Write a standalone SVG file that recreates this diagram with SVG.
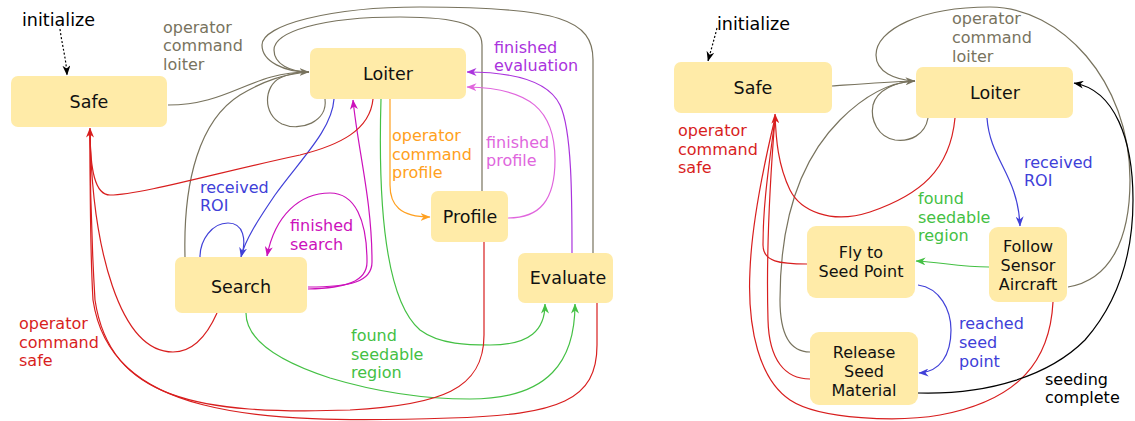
<svg xmlns="http://www.w3.org/2000/svg" width="1135" height="421" viewBox="0 0 1135 421">
<style>
text{font-family:"DejaVu Sans",Verdana,sans-serif;font-size:17.5px}
.ml{font-size:16px}
.n rect{fill:#ffeba8}
.n text{fill:#111;text-anchor:middle}
.e path{fill:none;stroke-width:1.2}
.k{stroke:#000}.g{stroke:#78735e}.r{stroke:#d81e1e}.b{stroke:#4040d8}.m{stroke:#cc11bb}.o{stroke:#ffa020}.p{stroke:#e066dd}.v{stroke:#aa33dd}.gr{stroke:#44c044}
.dot{stroke-dasharray:2 2}
.tk{fill:#000}.tg{fill:#78735e}.tr{fill:#d81e1e}.tb{fill:#4040d8}.tm{fill:#cc11bb}.to{fill:#ffa020}.tp{fill:#e066dd}.tv{fill:#aa33dd}.tgr{fill:#44c044}
</style>
<defs>
<marker id="mk" viewBox="0 0 10 8" refX="9.5" refY="4" markerWidth="10" markerHeight="8" orient="auto" markerUnits="userSpaceOnUse"><path d="M0,0 L10,4 L0,8 L3,4 z" fill="#000"/></marker>
<marker id="mg" viewBox="0 0 10 8" refX="9.5" refY="4" markerWidth="10" markerHeight="8" orient="auto" markerUnits="userSpaceOnUse"><path d="M0,0 L10,4 L0,8 L3,4 z" fill="#78735e"/></marker>
<marker id="mr" viewBox="0 0 10 8" refX="9.5" refY="4" markerWidth="10" markerHeight="8" orient="auto" markerUnits="userSpaceOnUse"><path d="M0,0 L10,4 L0,8 L3,4 z" fill="#d81e1e"/></marker>
<marker id="mb" viewBox="0 0 10 8" refX="9.5" refY="4" markerWidth="10" markerHeight="8" orient="auto" markerUnits="userSpaceOnUse"><path d="M0,0 L10,4 L0,8 L3,4 z" fill="#4040d8"/></marker>
<marker id="mm" viewBox="0 0 10 8" refX="9.5" refY="4" markerWidth="10" markerHeight="8" orient="auto" markerUnits="userSpaceOnUse"><path d="M0,0 L10,4 L0,8 L3,4 z" fill="#cc11bb"/></marker>
<marker id="mo" viewBox="0 0 10 8" refX="9.5" refY="4" markerWidth="10" markerHeight="8" orient="auto" markerUnits="userSpaceOnUse"><path d="M0,0 L10,4 L0,8 L3,4 z" fill="#ffa020"/></marker>
<marker id="mp" viewBox="0 0 10 8" refX="9.5" refY="4" markerWidth="10" markerHeight="8" orient="auto" markerUnits="userSpaceOnUse"><path d="M0,0 L10,4 L0,8 L3,4 z" fill="#e066dd"/></marker>
<marker id="mv" viewBox="0 0 10 8" refX="9.5" refY="4" markerWidth="10" markerHeight="8" orient="auto" markerUnits="userSpaceOnUse"><path d="M0,0 L10,4 L0,8 L3,4 z" fill="#aa33dd"/></marker>
<marker id="mgr" viewBox="0 0 10 8" refX="9.5" refY="4" markerWidth="10" markerHeight="8" orient="auto" markerUnits="userSpaceOnUse"><path d="M0,0 L10,4 L0,8 L3,4 z" fill="#44c044"/></marker>
</defs>

<g id="connectors" class="e">
<!-- left diagram -->
<path class="k dot" d="M60,29 C62,45 66,58 67,75" marker-end="url(#mk)"/>
<path class="g" d="M168,105 C230,105 250,72 309,72" marker-end="url(#mg)"/>
<path class="g" d="M185,257 C183,180 200,120 240,95 C265,80 285,74 309,72"/>
<path class="g" d="M325,99 C328,122 300,132 282,124 C262,114 264,86 280,78 C290,73 300,72 309,72"/>
<path class="g" d="M482,191 L482,45 C482,25 460,17 400,17 C320,17 274,32 274,50 C274,64 290,72 309,72"/>
<path class="g" d="M593,253 L593,60 C593,20 560,7 420,7 C330,7 262,25 262,45 C262,62 285,72 309,72"/>
<path class="b" d="M334,99 C332,130 300,160 275,195 C258,220 245,240 241,257" marker-end="url(#mb)"/>
<path class="b" d="M200,257 C200,240 212,223 228,223 C244,223 246,240 242,255"/>
<path class="m" d="M308,287 C350,287 372,282 372,262 C372,200 358,150 353,100" marker-end="url(#mm)"/>
<path class="m" d="M308,289 C345,288 367,282 367,262 C367,220 355,193 330,193 C300,193 275,215 267,256" marker-end="url(#mm)"/>
<path class="o" d="M390,99 L390,185 C390,205 400,217 430,217" marker-end="url(#mo)"/>
<path class="gr" d="M381,99 C378,200 385,300 420,330 C440,345 470,345 490,345 C530,345 545,330 545,304" marker-end="url(#mgr)"/>
<path class="gr" d="M246,313 C246,345 290,365 330,378 C380,393 430,399 470,399 C550,399 575,360 575,304" marker-end="url(#mgr)"/>
<path class="r" d="M373,99 C370,130 340,145 300,155 C220,172 140,195 110,195 C95,195 90,170 90,128" marker-end="url(#mr)"/>
<path class="r" d="M217,313 C205,340 190,352 173,352 C120,352 92,250 90,130"/>
<path class="r" d="M484,242 L484,335 C484,390 440,405 350,410 C200,415 110,400 95,300 C92,250 90,180 90,130"/>
<path class="r" d="M597,303 L597,345 C597,400 560,415 450,418 C250,425 110,415 93,300 C90,250 90,180 90,130"/>
<path class="p" d="M508,218 C540,218 555,200 555,160 C555,110 530,88 467,87" marker-end="url(#mp)"/>
<path class="v" d="M572,253 C572,200 572,130 560,105 C548,80 510,72 467,72" marker-end="url(#mv)"/>
<!-- right diagram -->
<path class="k dot" d="M717,28 C714,40 711,50 708,61" marker-end="url(#mk)"/>
<path class="g" d="M832,86 C860,84 885,82 915,81" marker-end="url(#mg)"/>
<path class="g" d="M810,352 C790,352 780,335 780,300 C780,220 800,160 840,120 C865,95 890,82 915,81"/>
<path class="g" d="M928,118 C925,135 910,142 895,140 C878,137 870,120 873,105 C877,90 895,82 915,81"/>
<path class="g" d="M1068,287 C1110,280 1130,240 1130,180 C1130,80 1060,7 990,7 C920,7 876,30 876,55 C876,72 895,80 915,81"/>
<path class="b" d="M987,118 C990,160 1018,175 1020,226" marker-end="url(#mb)"/>
<path class="r" d="M955,118 C950,170 920,195 870,212 C830,225 800,210 790,190 C778,165 776,140 775,114" marker-end="url(#mr)"/>
<path class="r" d="M807,264 C780,264 763,262 763,245 C763,200 770,160 775,118"/>
<path class="r" d="M810,379 C785,379 769,360 768,320 C766,250 770,180 775,118"/>
<path class="r" d="M1053,302 C1050,360 1020,400 940,415 C900,422 820,420 790,400 C760,380 747,330 750,270 C752,220 765,160 775,118"/>
<path class="gr" d="M989,267 C960,267 940,262 916,261" marker-end="url(#mgr)"/>
<path class="b" d="M918,285 C940,288 951,310 951,330 C951,355 940,372 919,373" marker-end="url(#mb)"/>
<path class="k" d="M918,393 C990,395 1050,375 1085,340 C1120,300 1133,250 1133,200 C1133,140 1115,90 1074,83" marker-end="url(#mk)"/>
</g>

<g id="labels">
<text class="tk" x="22" y="26">initialize</text>
<text class="tg ml" x="163" y="32.5">operator</text><text class="tg ml" x="163" y="51">command</text><text class="tg ml" x="163" y="69.5">loiter</text>
<text class="tb ml" x="200" y="192.7">received</text><text class="tb ml" x="200" y="211.3">ROI</text>
<text class="tm ml" x="290" y="231.2">finished</text><text class="tm ml" x="290" y="249.8">search</text>
<text class="to ml" x="392" y="141">operator</text><text class="to ml" x="392" y="159.6">command</text><text class="to ml" x="392" y="178.2">profile</text>
<text class="tp ml" x="486" y="147.7">finished</text><text class="tp ml" x="486" y="166.3">profile</text>
<text class="tv ml" x="494" y="52.7">finished</text><text class="tv ml" x="494" y="71.3">evaluation</text>
<text class="tgr ml" x="351" y="341">found</text><text class="tgr ml" x="351" y="359.6">seedable</text><text class="tgr ml" x="351" y="378.2">region</text>
<text class="tr ml" x="19" y="329">operator</text><text class="tr ml" x="19" y="347.6">command</text><text class="tr ml" x="19" y="366.2">safe</text>

<text class="tk" x="717" y="30">initialize</text>
<text class="tg ml" x="952" y="24.4">operator</text><text class="tg ml" x="952" y="43">command</text><text class="tg ml" x="952" y="61.6">loiter</text>
<text class="tr ml" x="678" y="136">operator</text><text class="tr ml" x="678" y="154.6">command</text><text class="tr ml" x="678" y="173.2">safe</text>
<text class="tb ml" x="1024" y="167.7">received</text><text class="tb ml" x="1024" y="186.3">ROI</text>
<text class="tgr ml" x="918" y="204">found</text><text class="tgr ml" x="918" y="222.6">seedable</text><text class="tgr ml" x="918" y="241.2">region</text>
<text class="tb ml" x="959" y="329.4">reached</text><text class="tb ml" x="959" y="348">seed</text><text class="tb ml" x="959" y="366.6">point</text>
<text class="tk ml" x="1045" y="384.7">seeding</text><text class="tk ml" x="1045" y="403.3">complete</text>
</g>

<g id="L-safe" class="n"><rect x="11" y="76" width="156" height="51" rx="7"/><text x="89" y="108">Safe</text></g>
<g id="L-loiter" class="n"><rect x="310" y="48" width="156" height="51" rx="7"/><text x="388" y="80">Loiter</text></g>
<g id="L-search" class="n"><rect x="175" y="257" width="132" height="56" rx="7"/><text x="241" y="293">Search</text></g>
<g id="L-profile" class="n"><rect x="431" y="191" width="77" height="51" rx="7"/><text x="470" y="223">Profile</text></g>
<g id="L-evaluate" class="n"><rect x="518" y="253" width="95" height="50" rx="7"/><text x="568" y="284">Evaluate</text></g>

<g id="R-safe" class="n"><rect x="674" y="62" width="158" height="51" rx="7"/><text x="753" y="94">Safe</text></g>
<g id="R-loiter" class="n"><rect x="916" y="67" width="157" height="51" rx="7"/><text x="995" y="99">Loiter</text></g>
<g id="R-fly" class="n"><rect x="807" y="226" width="108" height="72" rx="9"/><text class="ml" x="861" y="258.2">Fly to</text><text class="ml" x="861" y="276.8">Seed Point</text></g>
<g id="R-release" class="n"><rect x="810" y="332" width="108" height="73" rx="9"/><text class="ml" x="864" y="358.4">Release</text><text class="ml" x="864" y="377">Seed</text><text class="ml" x="864" y="395.6">Material</text></g>
<g id="R-follow" class="n"><rect x="989" y="227" width="78" height="75" rx="9"/><text class="ml" x="1028" y="252.4">Follow</text><text class="ml" x="1028" y="271">Sensor</text><text class="ml" x="1028" y="289.6">Aircraft</text></g>
</svg>
